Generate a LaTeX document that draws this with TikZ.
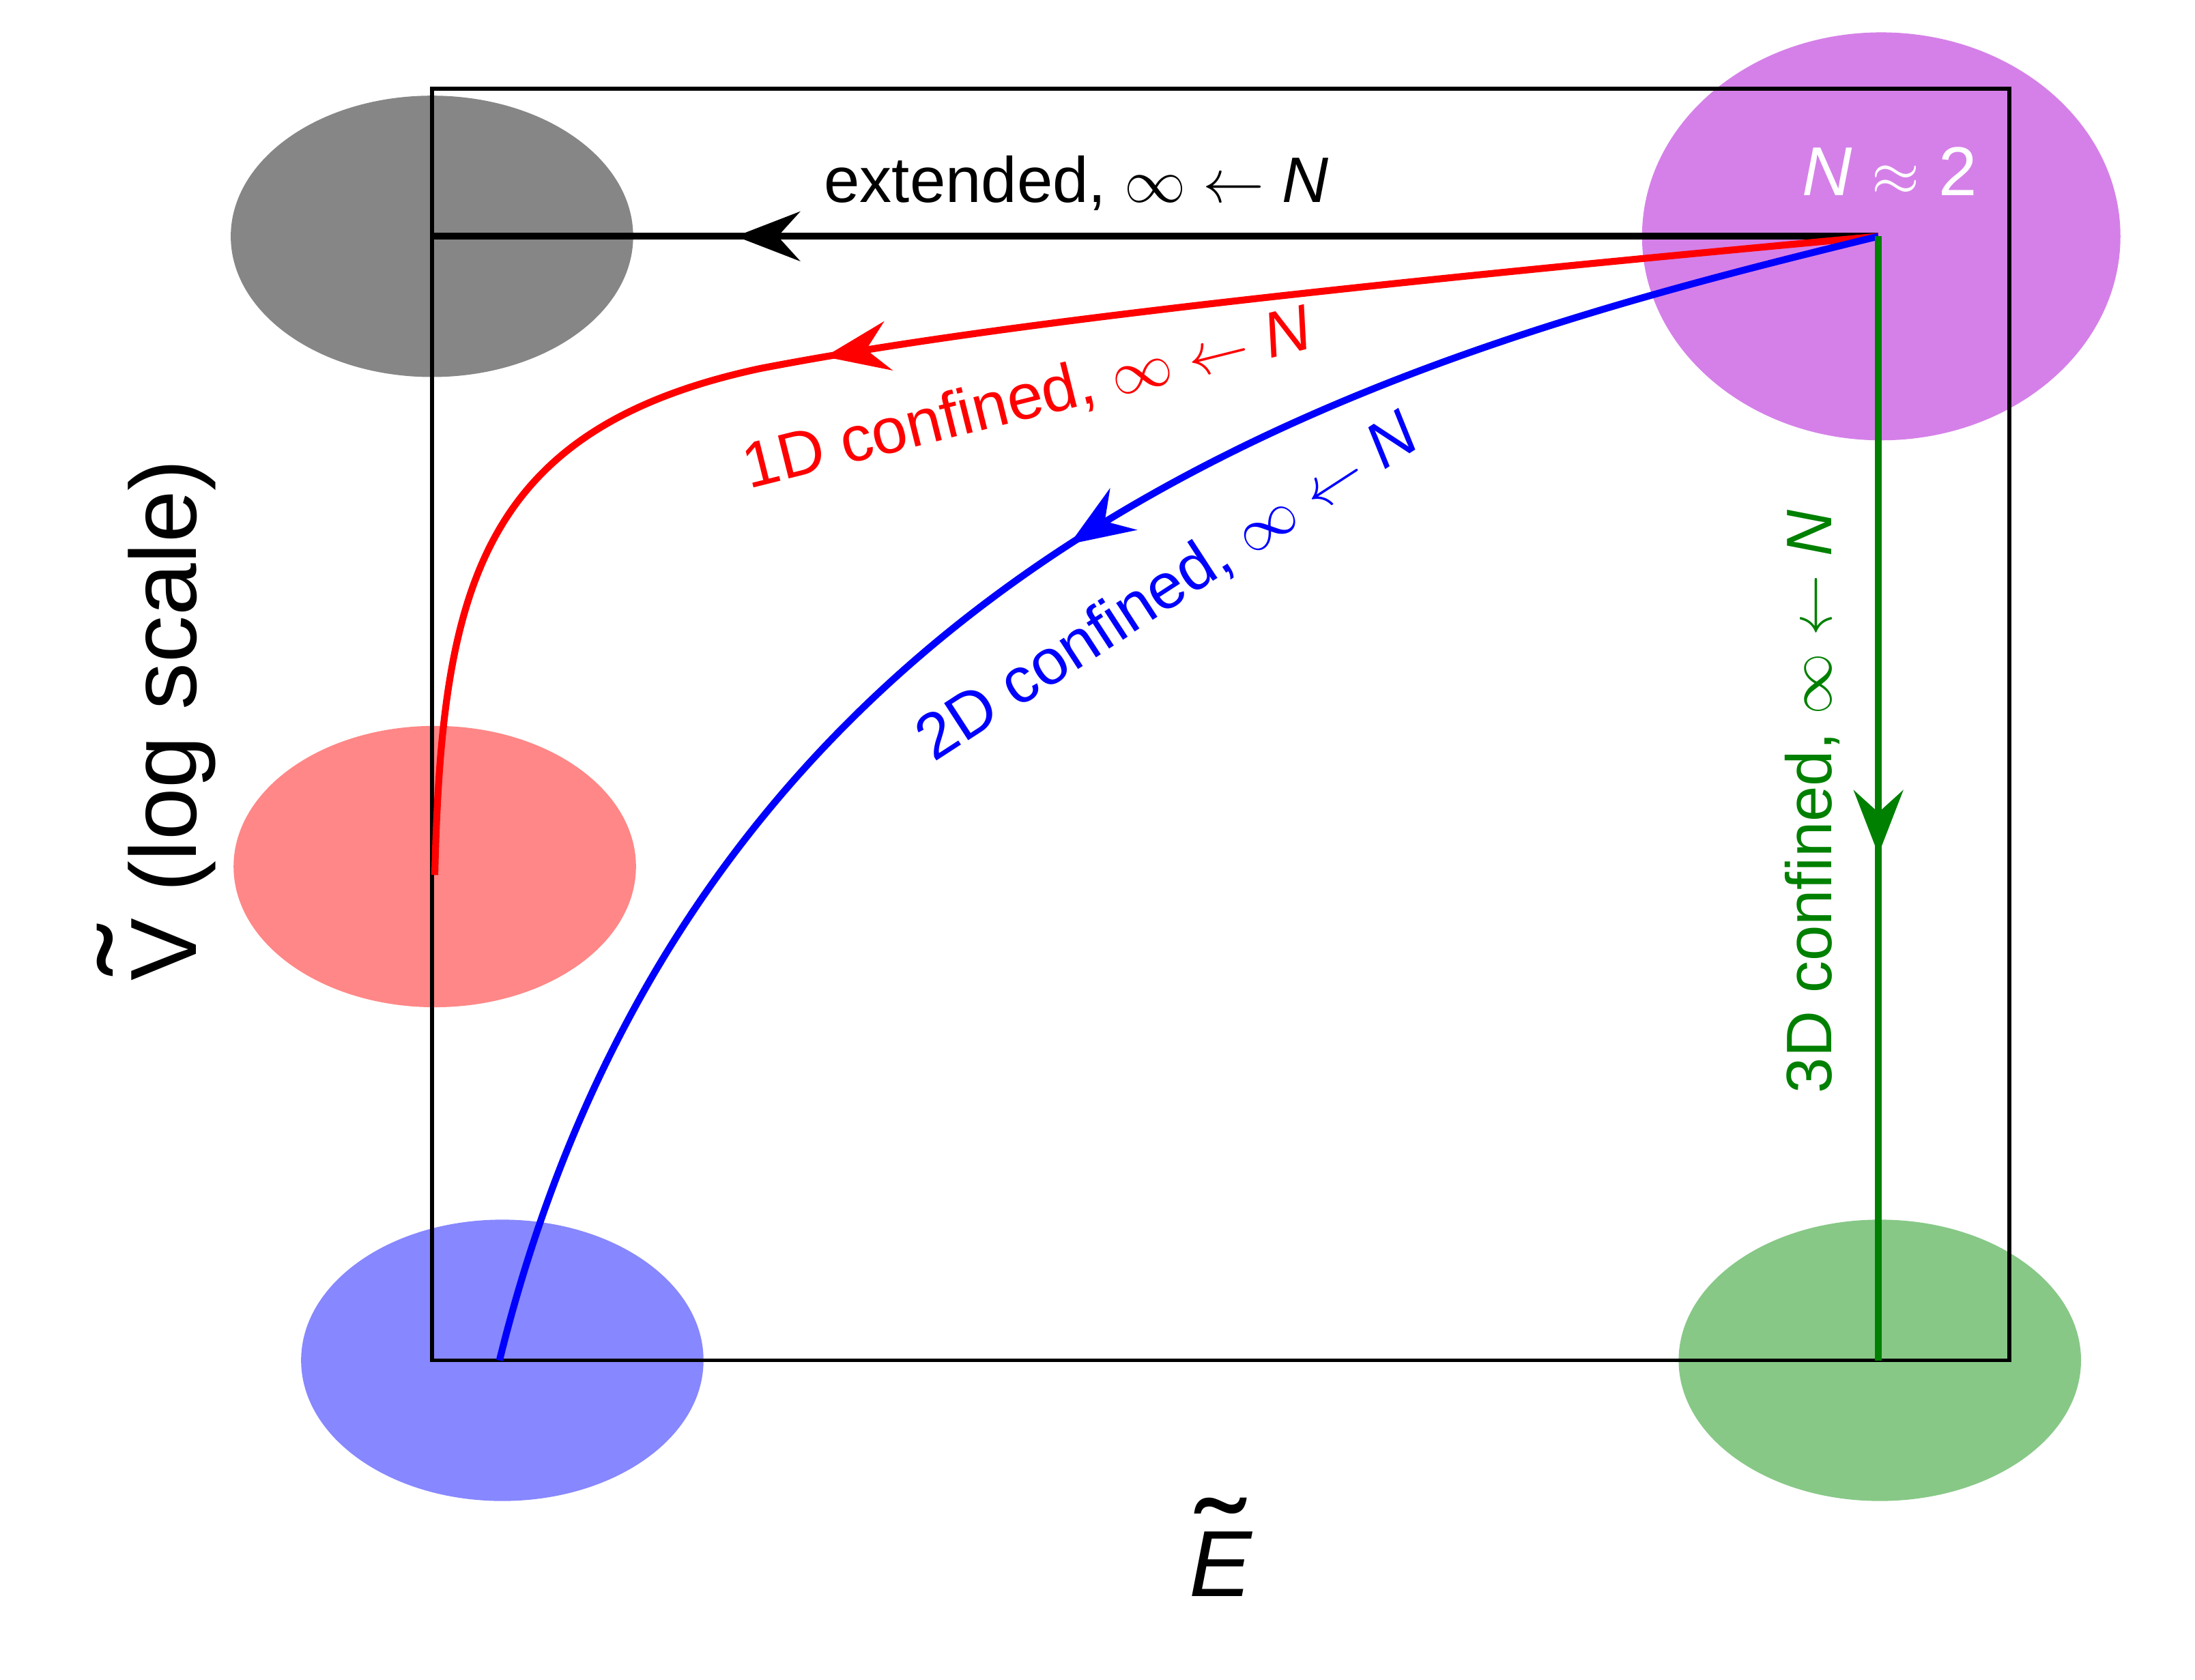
\documentclass[tikz,border=0pt]{standalone}
\usepackage{fontspec}
\setmainfont{Liberation Sans}
\usetikzlibrary{decorations.markings,arrows.meta}
\definecolor{gblob}{HTML}{868686}
\definecolor{rblob}{HTML}{FF8787}
\definecolor{bblob}{HTML}{8787FF}
\definecolor{grblob}{HTML}{87C887}
\definecolor{pblob}{HTML}{D580E8}
\definecolor{dgreen}{HTML}{008000}
\newcommand\mytld[1]{\ooalign{#1\cr\hidewidth\raisebox{0.12em}{\scalebox{1.6}[1.3]{\char"02DC}}\hidewidth\cr}}
\tikzset{
  curve/.style={line width=2.8pt},
  midarrow/.style={postaction={decorate},decoration={markings,mark=at position #1 with {\arrow{Stealth[length=26pt,width=20pt,inset=9pt]}}}},
  lbl/.style={font=\fontsize{26}{30}\selectfont,inner sep=0pt},
}
\begin{document}
\begin{tikzpicture}[x=0.02cm,y=-0.02cm]
\useasboundingbox (0,0) rectangle (1560,1194);
\fill[gblob] (307,168) ellipse [x radius=143,y radius=100];
\fill[rblob] (309,616) ellipse [x radius=143,y radius=100];
\fill[bblob] (357,967) ellipse [x radius=143,y radius=100];
\fill[grblob] (1336,967) ellipse [x radius=143,y radius=100];
\fill[pblob] (1337,168) ellipse [x radius=170,y radius=145];
\draw[line width=1.5pt] (307,63) rectangle (1428,967);
\coordinate (S) at (1335,168);
\coordinate (G) at (307,168);
\coordinate (R) at (309,622);
\coordinate (B) at (355,967);
\coordinate (Gr) at (1335,967);
\draw[curve,black,midarrow=0.79] (S) -- (G);
\draw[curve,red,midarrow=0.59] (S) .. controls (900,208) and (680,235) .. (540,262) .. controls (340,305) and (314,420) .. (R);
\draw[curve,blue,midarrow=0.46] (S) .. controls (1000,250) and (500,380) .. (B);
\draw[curve,dgreen,midarrow=0.55] (S) -- (Gr);
\node[lbl] (t1) at (765,130) {extended, $\infty\leftarrow$ \textit{N}};
\node[lbl,red,rotate=14] (t2) at (730,284) {1D confined, $\infty\leftarrow$ \textit{N}};
\node[lbl,blue,rotate=33] (t3) at (830,418) {2D confined, $\infty\leftarrow$ \textit{N}};
\node[lbl,dgreen,rotate=90] (t4) at (1288,570) {3D confined, $\infty\leftarrow$ \textit{N}};
\node[lbl,white,font=\fontsize{28}{32}\selectfont] (t5) at (1343,122) {\textit{N} $\approx$ 2};
\node[font=\fontsize{38}{44}\selectfont,rotate=90,inner sep=0pt] (ax1) at (122,512) {\mytld{V} (log scale)};
\node[font=\fontsize{38}{44}\selectfont,inner sep=0pt] (ax2) at (868,1112) {\mytld{\textit{E}}};
\end{tikzpicture}
\end{document}
